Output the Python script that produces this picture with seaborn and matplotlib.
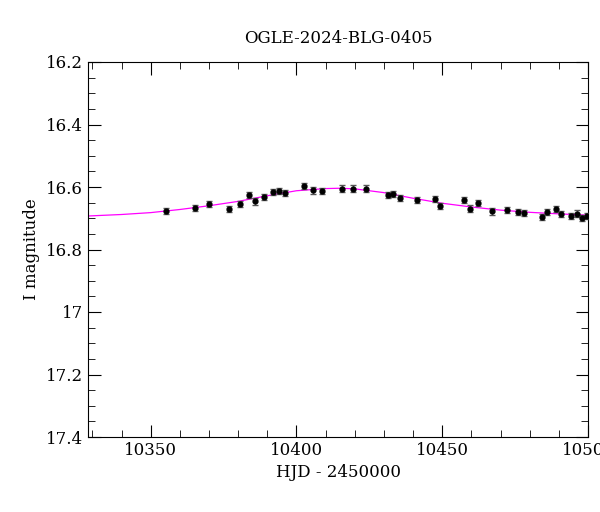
import matplotlib
matplotlib.use("Agg")
import matplotlib.pyplot as plt
import seaborn as sns
import pandas as pd
from matplotlib.ticker import MultipleLocator, FuncFormatter

# observed photometry
hjd = [10355.3, 10365.2, 10370.0, 10377.0, 10380.7, 10383.8, 10385.9, 10389.0,
       10391.9, 10393.9, 10395.9, 10402.7, 10405.7, 10408.7, 10415.7, 10419.5,
       10423.8, 10431.5, 10433.2, 10435.5, 10441.5, 10447.5, 10449.3, 10457.5,
       10459.4, 10462.2, 10467.1, 10472.2, 10476.1, 10478.1, 10484.1, 10485.9,
       10488.9, 10490.9, 10494.0, 10496.1, 10498.1, 10499.7]
mag = [16.676, 16.667, 16.655, 16.671, 16.654, 16.626, 16.646, 16.631,
       16.615, 16.613, 16.619, 16.597, 16.611, 16.613, 16.605, 16.605,
       16.605, 16.626, 16.622, 16.634, 16.642, 16.639, 16.660, 16.642,
       16.669, 16.651, 16.678, 16.674, 16.679, 16.683, 16.696, 16.680,
       16.671, 16.687, 16.692, 16.685, 16.700, 16.692]
err = [0.010] * len(hjd)

# model curve
model_hjd = [10328, 10340, 10350, 10360, 10370, 10380, 10390, 10400, 10410, 10415,
             10420, 10430, 10440, 10450, 10460, 10470, 10480, 10490, 10500]
model_mag = [16.693, 16.688, 16.682, 16.672, 16.660, 16.646, 16.628, 16.612, 16.605,
             16.604, 16.606, 16.618, 16.636, 16.652, 16.664, 16.674, 16.681, 16.686, 16.690]

sns.set_style("ticks")
plt.rcParams["font.family"] = "DejaVu Serif"
plt.rcParams["text.color"] = "black"
plt.rcParams["axes.labelcolor"] = "black"
plt.rcParams["xtick.color"] = "black"
plt.rcParams["ytick.color"] = "black"
plt.rcParams["axes.edgecolor"] = "black"

fig = plt.figure(figsize=(6, 5.12), dpi=100)
ax = fig.add_axes([88 / 600, 1 - 437 / 512, 500 / 600, 375 / 512])

df = pd.DataFrame({"hjd": model_hjd, "mag": model_mag})
sns.lineplot(data=df, x="hjd", y="mag", ax=ax, color="magenta", linewidth=0.9)
ax.errorbar(hjd, mag, yerr=err, fmt="o", color="black", ms=3.5,
            ecolor="#555555", elinewidth=1, capsize=2.5, zorder=3)

ax.set_xlim(10328.5, 10500)
ax.set_ylim(17.4, 16.2)
ax.xaxis.set_major_locator(MultipleLocator(50))
ax.xaxis.set_minor_locator(MultipleLocator(10))
ax.yaxis.set_major_locator(MultipleLocator(0.2))
ax.yaxis.set_minor_locator(MultipleLocator(0.05))
ax.yaxis.set_major_formatter(FuncFormatter(lambda v, p: f"{v:.1f}".rstrip("0").rstrip(".")))
ax.tick_params(which="both", direction="in", top=True, right=True, labelsize=12)
ax.tick_params(which="major", length=9)
ax.tick_params(which="minor", length=5)
ax.set_xlabel("HJD - 2450000", fontsize=12)
ax.set_ylabel("I magnitude", fontsize=12)
ax.set_title("OGLE-2024-BLG-0405", fontsize=12, pad=14)

fig.savefig("out.png", dpi=100)
